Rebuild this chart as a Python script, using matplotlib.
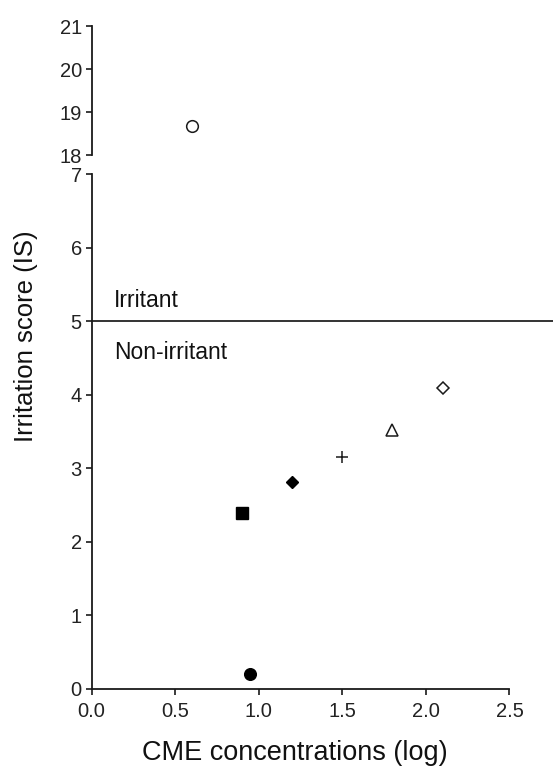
import matplotlib
matplotlib.use("Agg")
import matplotlib.pyplot as plt

plt.rcParams['font.family'] = ['Liberation Sans', 'DejaVu Sans']

# Data
upper_x = [0.6]
upper_y = [18.68]
lower_x = [0.95, 0.9, 1.2, 1.5, 1.8, 2.1]
lower_y = [0.21, 2.40, 2.82, 3.16, 3.53, 4.10]
lower_markers = ['o', 's', 'D', '+', '^', 'D']
lower_filled = [True, True, True, False, False, False]
lower_sizes = [8.4, 9.0, 6.4, 8.6, 8.4, 6.4]

x_ticks = [0.0, 0.5, 1.0, 1.5, 2.0, 2.5]
lower_yticks = [0, 1, 2, 3, 4, 5, 6, 7]
upper_yticks = [18, 19, 20, 21]
threshold = 5
xlabel = "CME concentrations (log)"
ylabel = "Irritation score (IS)"

ink = '#1a1a1a'
fig = plt.figure(figsize=(5.53, 7.67), dpi=100)

ax = fig.add_axes([0.1658, 0.1017, 0.7555, 0.6708])
axu = fig.add_axes([0.1658, 0.7979, 0.7555, 0.1682])

for a in (ax, axu):
    a.spines['top'].set_visible(False)
    a.spines['right'].set_visible(False)
    for s in a.spines.values():
        s.set_linewidth(1.3)
        s.set_color(ink)
    a.tick_params(axis='both', which='major', direction='out', length=4.6,
                  width=1.2, color=ink, labelsize=14.5, labelcolor='#222222')
    a.set_xlim(0, 2.5)

# lower axis
ax.set_ylim(0, 7)
ax.set_xticks(x_ticks)
ax.set_xticklabels([f"{v:.1f}" for v in x_ticks])
ax.set_yticks(lower_yticks)
ax.set_yticklabels([str(v) for v in lower_yticks])
ax.tick_params(axis='y', pad=2.5)
ax.tick_params(axis='x', pad=4.5)
ax.set_yticks([7], minor=True)
ax.tick_params(axis='y', which='minor', direction='inout', length=9, width=1.2, color=ink)
ax.set_xticks([], minor=True)

for xv, yv, m, f, ms in zip(lower_x, lower_y, lower_markers, lower_filled, lower_sizes):
    if m == '+':
        ax.plot([xv], [yv], marker=m, ms=ms, mew=1.1, color=ink, ls='none', clip_on=False)
    elif f:
        ax.plot([xv], [yv], marker=m, ms=ms, mfc='black', mec='black', mew=1.0, ls='none', clip_on=False)
    else:
        ax.plot([xv], [yv], marker=m, ms=ms, mfc='white', mec=ink, mew=1.1, ls='none', clip_on=False)

ax.axhline(threshold, xmin=0, xmax=1.105, color='#333333', lw=1.4, clip_on=False)
ax.text(0.135, 5.193, "Irritant", fontsize=16.5, color='#111111', va='baseline', ha='left')
ax.text(0.135, 4.486, "Non-irritant", fontsize=16.5, color='#111111', va='baseline', ha='left')

# upper axis
axu.set_ylim(18, 21)
axu.set_yticks(upper_yticks)
axu.set_yticklabels([str(v) for v in upper_yticks])
axu.tick_params(axis='y', pad=2.5)
axu.spines['bottom'].set_visible(False)
axu.set_xticks([])
axu.set_yticks([18], minor=True)
axu.tick_params(axis='y', which='minor', direction='inout', length=9, width=1.2, color=ink)
axu.plot(upper_x, upper_y, marker='o', ms=8.4, mfc='white', mec=ink, mew=1.1, ls='none')

fig.text(0.047, 1 - 336.5 / 767, ylabel, rotation=90, fontsize=18.5,
         ha='center', va='center', color='#111111')
fig.text(0.5325, 1 - 760.5 / 767, xlabel, fontsize=19.5,
         ha='center', va='baseline', color='#111111')

fig.savefig("out.png", dpi=100, facecolor='white')
